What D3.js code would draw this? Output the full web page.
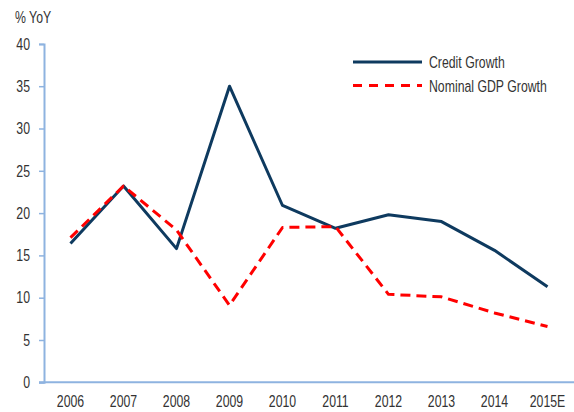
<!DOCTYPE html>
<html>
<head>
<meta charset="utf-8">
<script src="https://cdn.jsdelivr.net/npm/d3@7"></script>
<style>
  html, body { margin: 0; padding: 0; background: #fff; }
  svg { display: block; }
  text { font-family: "Liberation Sans", Arial, sans-serif; fill: #333; }
</style>
</head>
<body>
<svg id="chart" width="574" height="412"></svg>
<script>
// Annual growth rates, % year over year
const years = ["2006", "2007", "2008", "2009", "2010", "2011", "2012", "2013", "2014", "2015E"];
const creditGrowth = [16.4, 23.2, 15.8, 35.0, 20.9, 18.2, 19.8, 19.0, 15.6, 11.3];
const nominalGdpGrowth = [17.1, 23.2, 18.0, 9.1, 18.3, 18.4, 10.4, 10.1, 8.2, 6.6];
const yTicks = [0, 5, 10, 15, 20, 25, 30, 35, 40];

const seriesNames = ["Credit Growth", "Nominal GDP Growth"];
const seriesColors = ["#0e3a5f", "#ff0000"];
const seriesDash = [null, "10,6"];

const svg = d3.select("#chart");
const axisColor = "#8eb3e0";
const fontSize = "16.5px";
const narrow = 0.745; // horizontal squeeze for a condensed look

// Squeeze text horizontally around its anchor point
function condense(sel) {
  sel.each(function () {
    const t = d3.select(this);
    const tx = +t.attr("x") || 0;
    t.attr("x", 0).attr("transform", `translate(${tx},0) scale(${narrow},1)`);
  });
}

const x = d3.scaleBand().domain(years).range([44, 574]);
const y = d3.scaleLinear().domain([0, 40]).range([382.3, 43.9]);
const cx = d => x(d) + x.bandwidth() / 2;

// Y axis
const yAxis = svg.append("g")
  .attr("transform", "translate(44,0)")
  .call(d3.axisLeft(y).tickValues(yTicks).tickSize(5).tickPadding(9));
yAxis.select(".domain").attr("stroke", axisColor).attr("stroke-width", 2);
yAxis.selectAll(".tick line").attr("stroke", axisColor).attr("stroke-width", 1.5);
yAxis.selectAll(".tick text").style("font-size", fontSize).attr("fill", "#333")
  .attr("font-family", null).call(condense);

// X axis
const xAxis = svg.append("g")
  .attr("transform", "translate(0,382.3)")
  .call(d3.axisBottom(x).tickSize(0).tickPadding(13).tickSizeOuter(0));
xAxis.select(".domain").attr("stroke", axisColor).attr("stroke-width", 2)
  .attr("d", "M39,0H574");
xAxis.selectAll(".tick text").style("font-size", fontSize).attr("fill", "#333")
  .attr("font-family", null).call(condense);

// Unit label
svg.append("text").attr("x", 15).attr("y", 23).style("font-size", fontSize)
  .text("% YoY").call(condense);

// Series lines
const line = d3.line().x((d, i) => cx(years[i])).y(d => y(d));
[creditGrowth, nominalGdpGrowth].forEach((vals, k) => {
  svg.append("path")
    .datum(vals)
    .attr("fill", "none")
    .attr("stroke", seriesColors[k])
    .attr("stroke-width", 3)
    .attr("stroke-linejoin", "round")
    .attr("stroke-dasharray", seriesDash[k])
    .attr("d", line);
});

// Legend
const legend = svg.append("g").attr("transform", "translate(353,62)");
seriesNames.forEach((name, k) => {
  const g = legend.append("g").attr("transform", `translate(0,${k * 23.5})`);
  g.append("line")
    .attr("x1", 0).attr("x2", 69).attr("y1", 0).attr("y2", 0)
    .attr("stroke", seriesColors[k])
    .attr("stroke-width", 3)
    .attr("stroke-dasharray", k === 1 ? "9,7" : null);
  g.append("text").attr("x", 76).attr("y", 6).style("font-size", fontSize)
    .text(name).call(condense);
});
</script>
</body>
</html>
